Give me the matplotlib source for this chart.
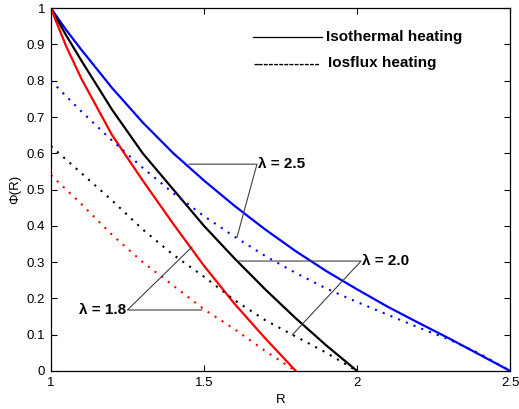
import numpy as np
import matplotlib
matplotlib.use("Agg")
import matplotlib.pyplot as plt

plt.rcParams['font.family'] = ['Liberation Sans', 'DejaVu Sans']

# Isothermal heating (solid)
r_red = [1.0, 1.05, 1.1, 1.2, 1.3, 1.4, 1.5, 1.6, 1.7, 1.8]
phi_red = [1.0, 0.895, 0.805, 0.65, 0.525, 0.405, 0.29, 0.185, 0.09, 0.0]

r_black = [1.0, 1.05, 1.1, 1.2, 1.3, 1.4, 1.5, 1.6, 1.7, 1.8, 1.9, 2.0]
phi_black = [1.0, 0.925, 0.855, 0.72, 0.60, 0.50, 0.40, 0.31, 0.225, 0.145, 0.07, 0.0]

r_blue = [1.0, 1.05, 1.1, 1.2, 1.3, 1.4, 1.5, 1.6, 1.7, 1.8, 1.9, 2.0,
          2.1, 2.2, 2.3, 2.4, 2.5]
phi_blue = [1.0, 0.94, 0.885, 0.78, 0.685, 0.60, 0.525, 0.455, 0.39, 0.33,
            0.275, 0.225, 0.177, 0.133, 0.09, 0.045, 0.0]

# Iosflux heating (dotted)
r_red_d = [1.0, 1.1, 1.2, 1.3, 1.4, 1.5, 1.6, 1.7, 1.8]
phi_red_d = [0.54, 0.46, 0.375, 0.30, 0.235, 0.17, 0.115, 0.055, 0.0]

r_black_d = [1.0, 1.1, 1.2, 1.3, 1.4, 1.5, 1.6, 1.7, 1.8, 1.9, 2.0]
phi_black_d = [0.62, 0.545, 0.47, 0.39, 0.32, 0.26, 0.195, 0.14, 0.095, 0.05, 0.0]

r_blue_d = [1.0, 1.1, 1.2, 1.3, 1.4, 1.5, 1.6, 1.7, 1.8, 1.9, 2.0,
            2.1, 2.2, 2.3, 2.4, 2.5]
phi_blue_d = [0.80, 0.715, 0.635, 0.56, 0.49, 0.427, 0.37, 0.317, 0.27,
              0.227, 0.19, 0.155, 0.12, 0.087, 0.048, 0.0]

fig = plt.figure(figsize=(5.19, 4.09), dpi=100)
ax = fig.add_axes([0.098, 0.093, 0.885, 0.887])

dot = (0, (1, 3))
ax.plot(r_blue, phi_blue, color='#0000ff', lw=1.6)
ax.plot(r_black, phi_black, color='k', lw=1.6)
ax.plot(r_red, phi_red, color='#ff0000', lw=1.6)
ax.plot(r_blue_d, phi_blue_d, color='#0000ff', lw=1.5, ls=dot)
ax.plot(r_black_d, phi_black_d, color='k', lw=1.5, ls=dot)
ax.plot(r_red_d, phi_red_d, color='#ff0000', lw=1.5, ls=dot)

# lambda labels with pointer lines
lc = '0.25'
ax.plot([1.451, 1.673, 1.608], [0.570, 0.570, 0.369], color=lc, lw=0.8)
ax.text(1.677, 0.570, 'λ = 2.5', fontsize=11, fontweight='bold', va='center', ha='left')

ax.plot([1.608, 2.013, 1.788], [0.303, 0.303, 0.099], color=lc, lw=0.8)
ax.text(2.016, 0.303, 'λ = 2.0', fontsize=11, fontweight='bold', va='center', ha='left')

ax.plot([1.493, 1.250, 1.461], [0.168, 0.168, 0.342], color=lc, lw=0.8)
ax.text(1.246, 0.168, 'λ = 1.8', fontsize=11, fontweight='bold', va='center', ha='right')

# legend-like labels
ax.plot([1.660, 1.886], [0.920, 0.920], color='k', lw=0.9)
ax.text(1.899, 0.920, 'Isothermal heating', fontsize=11, fontweight='bold', va='center')
ax.text(1.660, 0.848, '-------------', fontsize=11, fontweight='bold', va='center')
ax.text(1.905, 0.848, 'Iosflux heating', fontsize=11, fontweight='bold', va='center')

ax.set_xlim(1, 2.5)
ax.set_ylim(0, 1)
ax.set_xticks([1, 1.5, 2, 2.5])
ax.set_xticklabels(['1', '1.5', '2', '2.5'])
ax.set_yticks(np.arange(0, 1.01, 0.1))
ax.set_yticklabels(['0', '0.1', '0.2', '0.3', '0.4', '0.5', '0.6', '0.7', '0.8', '0.9', '1'])
ax.tick_params(direction='in', top=True, right=True, length=4, width=0.8, labelsize=9.5, pad=4)
for s in ax.spines.values():
    s.set_linewidth(0.9)
ax.set_xlabel('R', fontsize=9.5, labelpad=4)
ax.set_ylabel('Φ(R)', fontsize=9.5, labelpad=4)

fig.savefig('out.png', dpi=100)
